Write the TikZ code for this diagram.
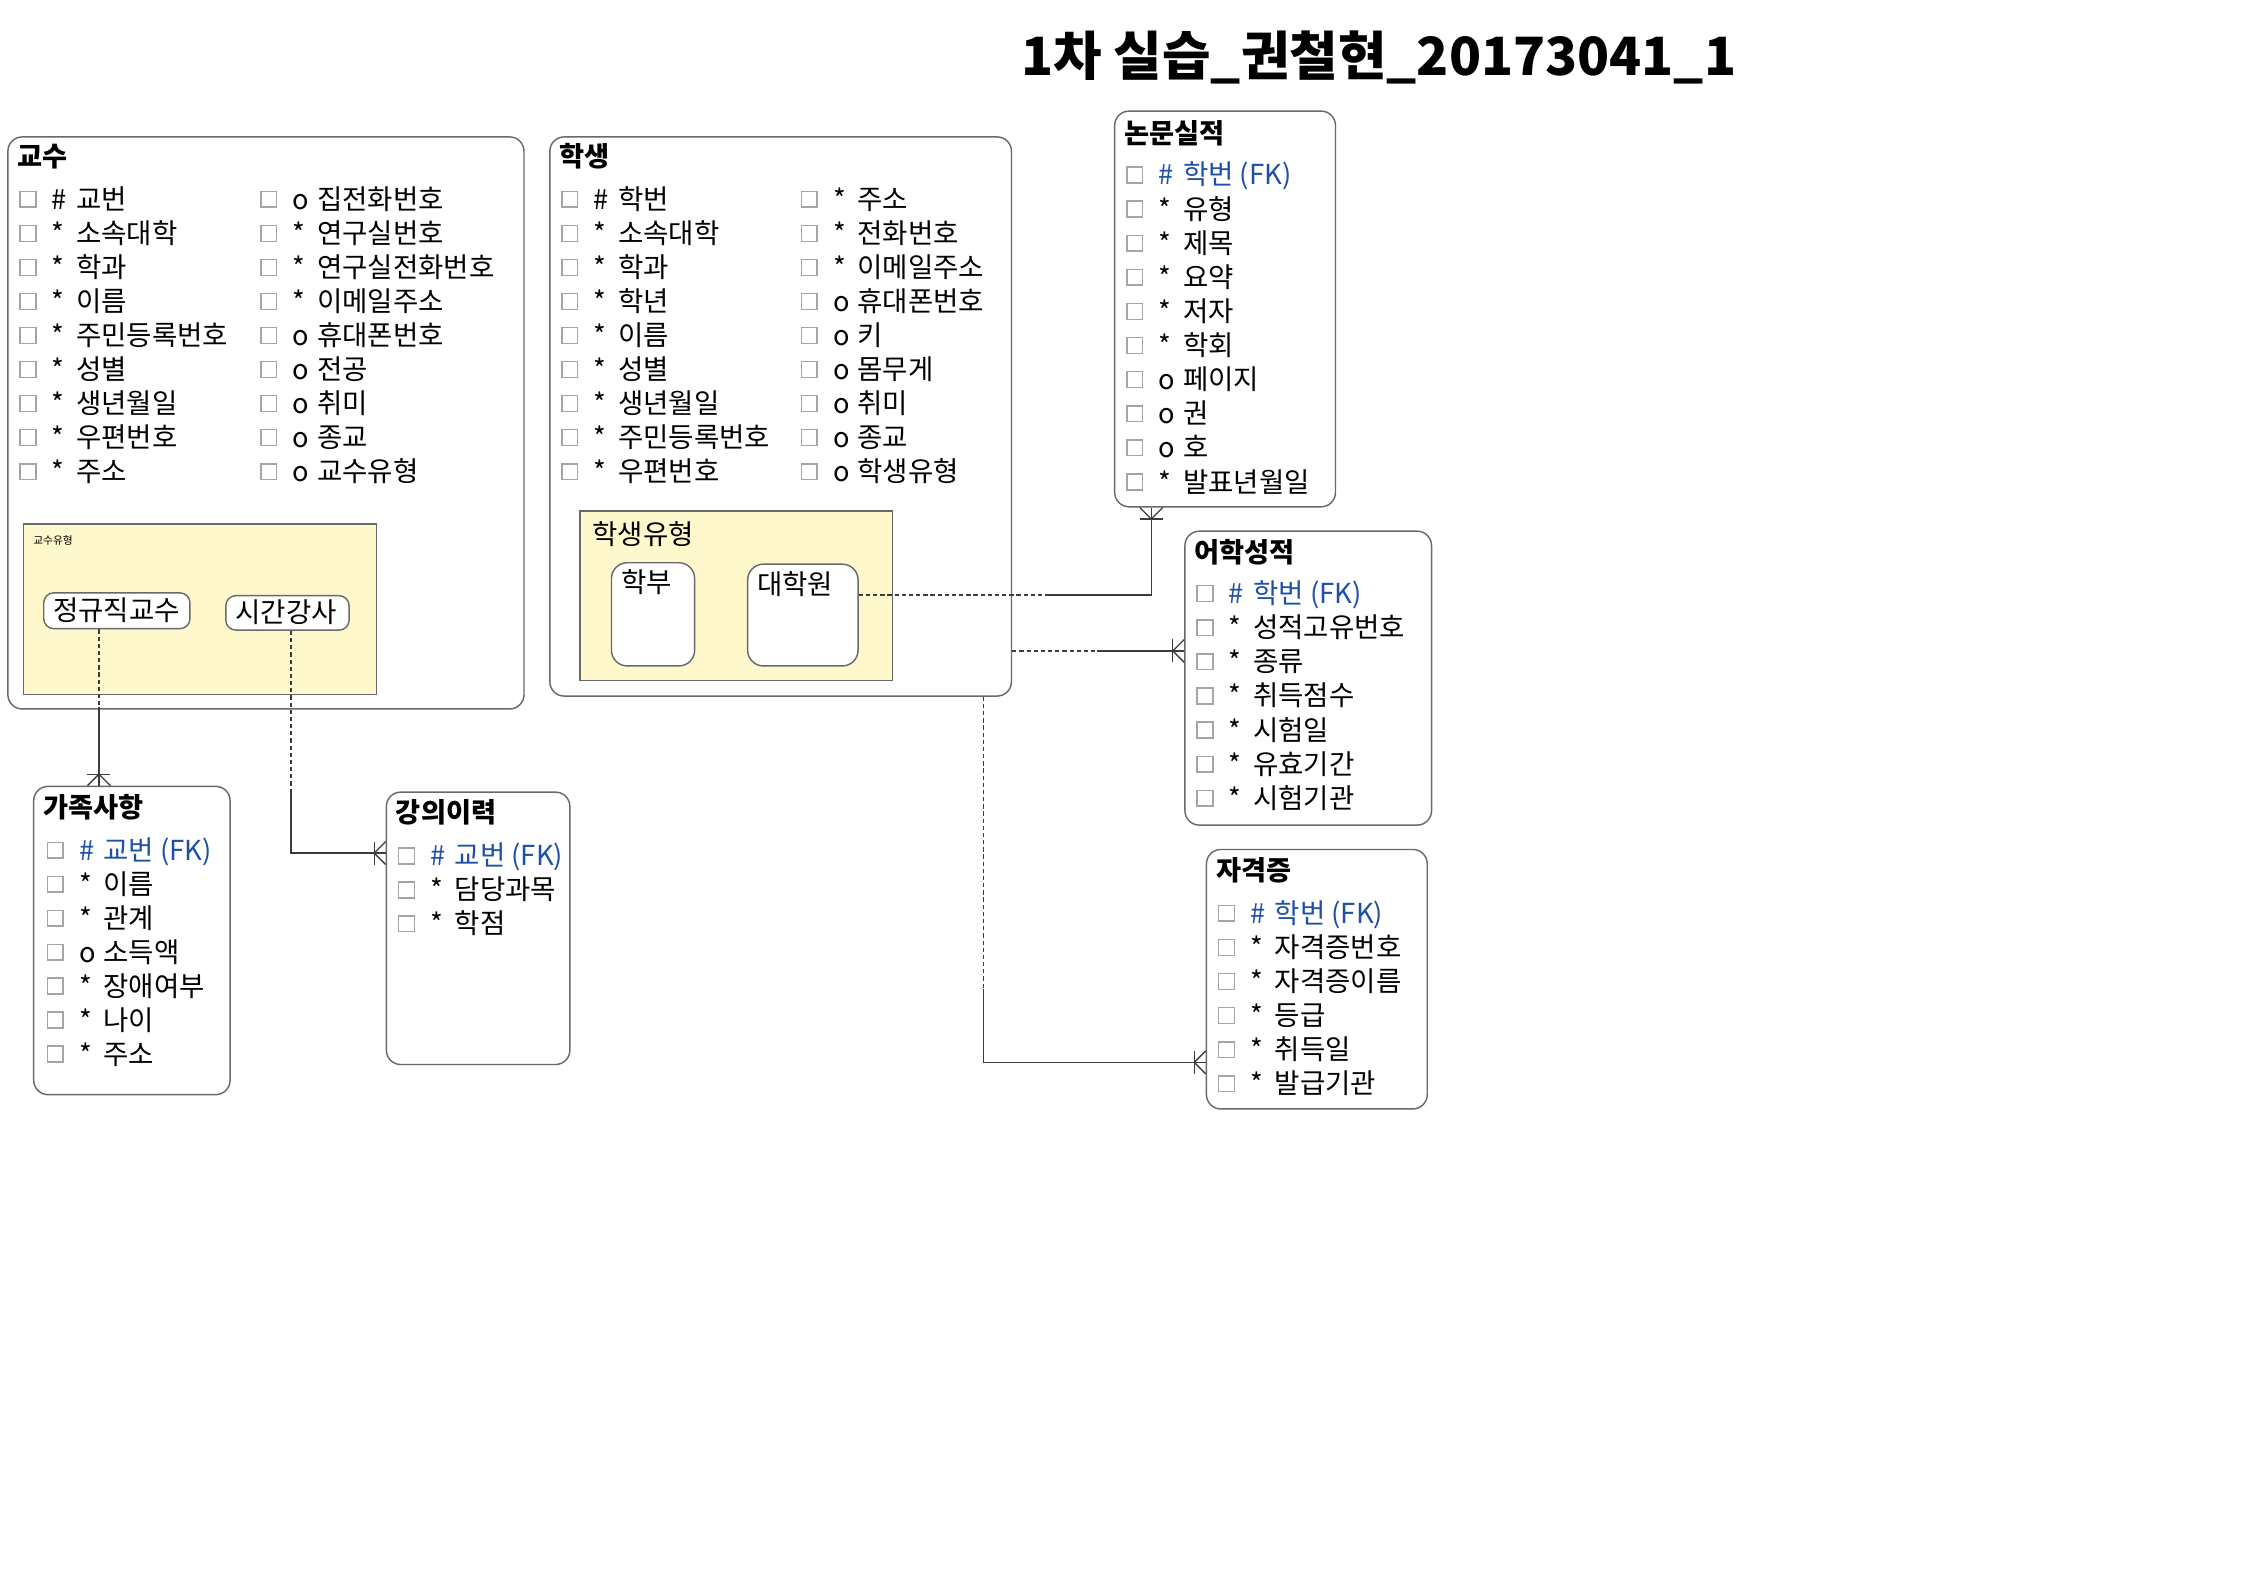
\documentclass[tikz,border=0pt]{standalone}
\usepackage{fontspec}
\setmainfont{Noto Sans CJK KR}
\usetikzlibrary{calc}
\definecolor{fkblue}{RGB}{30,80,165}
\definecolor{subyellow}{RGB}{255,248,204}
\definecolor{boxgray}{RGB}{105,105,105}
\definecolor{linegray}{RGB}{60,60,60}
\definecolor{chkgray}{RGB}{165,165,165}
\newcounter{rc}
\newcommand\optm{o}
\newcommand\arow[5][black]{%
  \stepcounter{rc}%
  \node[chk] (k\arabic{rc}) at ({#2+5.5},{#3}) {};
  \node[sym,text=#1] (s\arabic{rc}) at ({#2+22},{#3+7}) {#4};
  \node[rtxt,text=#1] (t\arabic{rc}) at ({#2+39},{#3+7}) {#5};}
\newcommand\crowdown[1]{%
  \draw[conn] ($(#1)+(-8,0)$) -- ($(#1)+(0,-8)$) -- ($(#1)+(8,0)$);
  \draw[conn] ($(#1)+(-8,-8)$) -- ($(#1)+(8,-8)$);}
\newcommand\crowup[1]{%
  \draw[conn] ($(#1)+(-8,0)$) -- ($(#1)+(0,8)$) -- ($(#1)+(8,0)$);
  \draw[conn] ($(#1)+(-8,8)$) -- ($(#1)+(8,8)$);}
\newcommand\crowright[1]{%
  \draw[conn] ($(#1)+(0,-8)$) -- ($(#1)+(-8,0)$) -- ($(#1)+(0,8)$);
  \draw[conn] ($(#1)+(-8,-8)$) -- ($(#1)+(-8,8)$);}
\begin{document}
\begin{tikzpicture}[x=1pt,y=-1pt,
  entity/.style={draw=boxgray,line width=1pt,rounded corners=10pt,anchor=north west,inner sep=0pt,fill=white},
  subtype/.style={draw=boxgray,line width=1pt,anchor=north west,inner sep=0pt,fill=subyellow},
  subbox/.style={draw=boxgray,line width=1pt,rounded corners=#1,anchor=north west,inner sep=0pt,fill=white},
  subbox/.default=7pt,
  etitle/.style={anchor=base west,inner sep=0pt,font=\bfseries\fontsize{19}{22}\selectfont},
  rtxt/.style={anchor=base west,inner sep=0pt,font=\fontsize{19.2}{22}\selectfont},
  sym/.style={anchor=base west,inner sep=0pt,font=\fontsize{19}{22}\selectfont},
  lbl/.style={anchor=base west,inner sep=0pt,font=\fontsize{19.2}{22}\selectfont},
  chk/.style={draw=chkgray,line width=1pt,minimum size=11pt,inner sep=0pt},
  conn/.style={draw=linegray,line width=0.9pt},
  dsh/.style={conn,dash pattern=on 3pt off 2pt}]
\useasboundingbox (0,0) rectangle (1568,1109);

% title
\node[anchor=base west,inner sep=0pt,font=\bfseries\fontsize{36.8}{44}\selectfont] (title) at (712,53) {1차 실습\_권철현\_20173041\_1};

% ===== 교수 =====
\node[entity,minimum width=360pt,minimum height=399pt] (prof) at (5,95) {};
\node[etitle] (proft) at (12,116) {교수};
\foreach[count=\i from 0] \s/\t in {\#/교번,*/소속대학,*/학과,*/이름,*/주민등록번호,*/성별,*/생년월일,*/우편번호,*/주소}
  {\arow{14}{139+23.75*\i}{\s}{\t}}
\foreach[count=\i from 0] \s/\t in {\optm/집전화번호,*/연구실번호,*/연구실전화번호,*/이메일주소,\optm/휴대폰번호,\optm/전공,\optm/취미,\optm/종교,\optm/교수유형}
  {\arow{182}{139+23.75*\i}{\s}{\t}}
\node[subtype,minimum width=246pt,minimum height=119pt] (ptype) at (16,365) {};
\node[anchor=west,inner sep=0pt,font=\fontsize{7.5}{9}\selectfont] (ptypet) at (23,377) {교수유형};
\node[subbox,minimum width=102pt,minimum height=25pt] (jk) at (30,413) {};
\node[lbl] (jkt) at (37,433) {정규직교수};
\node[subbox,minimum width=86pt,minimum height=24pt] (sg) at (157,415) {};
\node[lbl] (sgt) at (164,434) {시간강사};

% ===== 학생 =====
\node[entity,minimum width=322pt,minimum height=390pt] (st) at (383,95) {};
\node[etitle] (stt) at (390,116) {학생};
\foreach[count=\i from 0] \s/\t in {\#/학번,*/소속대학,*/학과,*/학년,*/이름,*/성별,*/생년월일,*/주민등록번호,*/우편번호}
  {\arow{392}{139+23.75*\i}{\s}{\t}}
\foreach[count=\i from 0] \s/\t in {*/주소,*/전화번호,*/이메일주소,\optm/휴대폰번호,\optm/키,\optm/몸무게,\optm/취미,\optm/종교,\optm/학생유형}
  {\arow{559}{139+23.75*\i}{\s}{\t}}
\node[subtype,minimum width=218pt,minimum height=118pt] (stype) at (404,356) {};
\node[lbl] (stypet) at (413,380) {학생유형};
\node[subbox=11pt,minimum width=58pt,minimum height=72pt] (hb) at (426,392) {};
\node[lbl] (hbt) at (433,413) {학부};
\node[subbox=11pt,minimum width=77pt,minimum height=71pt] (dhw) at (521,393) {};
\node[lbl] (dhwt) at (528,415) {대학원};

% ===== 논문실적 =====
\node[entity,minimum width=154pt,minimum height=276pt] (paper) at (777,77) {};
\node[etitle] (papert) at (784,100) {논문실적};
\arow[fkblue]{786}{122}{\#}{학번 (FK)}
\foreach[count=\i from 1] \s/\t in {*/유형,*/제목,*/요약,*/저자,*/학회,\optm/페이지,\optm/권,\optm/호,*/발표년월일}
  {\arow{786}{122+23.8*\i}{\s}{\t}}

% ===== 어학성적 =====
\node[entity,minimum width=172pt,minimum height=205pt] (lang) at (826,370) {};
\node[etitle] (langt) at (833,392) {어학성적};
\arow[fkblue]{835}{414}{\#}{학번 (FK)}
\foreach[count=\i from 1] \s/\t in {*/성적고유번호,*/종류,*/취득점수,*/시험일,*/유효기간,*/시험기관}
  {\arow{835}{414+23.8*\i}{\s}{\t}}

% ===== 자격증 =====
\node[entity,minimum width=154pt,minimum height=181pt] (cert) at (841,592) {};
\node[etitle] (certt) at (848,614) {자격증};
\arow[fkblue]{850}{637}{\#}{학번 (FK)}
\foreach[count=\i from 1] \s/\t in {*/자격증번호,*/자격증이름,*/등급,*/취득일,*/발급기관}
  {\arow{850}{637+23.8*\i}{\s}{\t}}

% ===== 가족사항 =====
\node[entity,minimum width=137pt,minimum height=215pt] (fam) at (23,548) {};
\node[etitle] (famt) at (30,570) {가족사항};
\arow[fkblue]{33}{593}{\#}{교번 (FK)}
\foreach[count=\i from 1] \s/\t in {*/이름,*/관계,\optm/소득액,*/장애여부,*/나이,*/주소}
  {\arow{33}{593+23.7*\i}{\s}{\t}}

% ===== 강의이력 =====
\node[entity,minimum width=128pt,minimum height=190pt] (lec) at (269,552) {};
\node[etitle] (lect) at (276,574) {강의이력};
\arow[fkblue]{278}{597}{\#}{교번 (FK)}
\foreach[count=\i from 1] \s/\t in {*/담당과목,*/학점}
  {\arow{278}{597+23.7*\i}{\s}{\t}}

% ===== connectors =====
% 정규직교수 -> 가족사항
\coordinate (b1) at (69,493);
\coordinate (e1) at (fam.north -| b1);
\draw[dsh] (jk.south -| b1) -- (b1);
\draw[conn] (b1) -- (e1);
\crowdown{e1}
% 시간강사 -> 강의이력
\coordinate (b2) at (203,550);
\coordinate (c2) at (203,595);
\coordinate (e2) at (lec.west |- c2);
\draw[dsh] (sg.south -| b2) -- (b2);
\draw[conn] (b2) -- (c2) -- (e2);
\crowright{e2}
% 대학원 -> 논문실적
\coordinate (s3) at (dhw.east |- 0,415);
\coordinate (b3) at (730,415);
\coordinate (c3) at (803,415);
\coordinate (e3) at (paper.south -| c3);
\draw[dsh] (s3) -- (b3);
\draw[conn] (b3) -- (c3) -- (e3);
\crowup{e3}
% 학생 -> 어학성적
\coordinate (s4) at (st.east |- 0,454);
\coordinate (b4) at (765,454);
\coordinate (e4) at (lang.west |- b4);
\draw[dsh] (s4) -- (b4);
\draw[conn] (b4) -- (e4);
\crowright{e4}
% 학생 -> 자격증
\coordinate (s5) at (st.south -| 686,0);
\coordinate (b5) at (686,690);
\coordinate (c5) at (686,741);
\coordinate (e5) at (cert.west |- c5);
\draw[dsh] (s5) -- (b5);
\draw[conn] (b5) -- (c5) -- (e5);
\crowright{e5}
\end{tikzpicture}
\end{document}
